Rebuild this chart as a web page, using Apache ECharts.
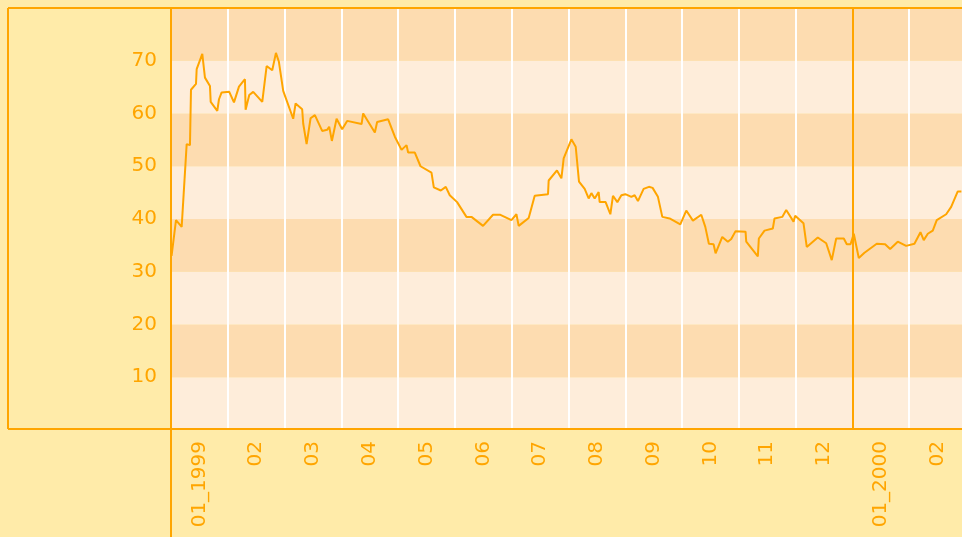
<!DOCTYPE html>
<html>
<head>
<meta charset="utf-8">
<script src="https://cdn.jsdelivr.net/npm/echarts@6/dist/echarts.min.js"></script>
<style>
html,body{margin:0;padding:0;background:#FFEBA9;}
#c{width:962px;height:537px;}
</style>
</head>
<body>
<div id="c"></div>
<script>
// Month labels (one band per month)
var monthLabels = ['01_1999','02','03','04','05','06','07','08','09','10','11','12','01_2000','02'];
// Position of each observation, in months from the start of Jan 1999
var monthPos = [0.01,0.088,0.188,0.276,0.334,0.352,0.44,0.452,0.551,0.598,0.686,0.699,0.815,0.845,0.892,
1.026,1.109,1.197,1.302,1.314,1.378,1.448,1.607,1.684,1.783,1.848,1.900,1.976,
2.152,2.194,2.310,2.328,2.388,2.458,2.534,2.662,2.750,2.786,2.833,2.916,
3.014,3.102,3.356,3.384,3.590,3.630,3.824,3.942,
4.060,4.148,4.176,4.294,4.394,4.587,4.628,4.751,4.839,4.909,
5.038,5.203,5.291,5.495,5.671,5.801,5.995,
6.083,6.123,6.299,6.405,6.639,6.651,6.797,6.875,6.915,
7.051,7.127,7.185,7.285,7.355,7.403,7.461,7.531,7.549,7.654,7.737,7.783,7.860,7.931,
8.001,8.107,8.165,8.223,8.323,8.416,8.481,8.575,8.652,8.780,8.969,
9.074,9.191,9.338,9.409,9.472,9.555,9.590,9.708,9.806,9.866,9.942,
10.118,10.130,10.334,10.352,10.452,10.598,10.628,10.764,10.834,10.963,10.992,
11.138,11.196,11.390,11.538,11.636,11.714,11.848,11.901,11.966,
12.024,12.112,12.212,12.428,12.576,12.664,12.798,12.946,
13.092,13.198,13.256,13.327,13.415,13.485,13.651,13.739,13.853,13.919];
// Values
var values = [33.0,39.8,38.5,54.2,54.0,64.5,65.6,68.4,71.3,66.8,65.2,62.2,60.5,62.7,64.0,
64.1,62.1,65.1,66.5,60.7,63.5,64.1,62.2,69.0,68.2,71.5,69.8,64.3,
59.0,61.9,60.8,58.1,54.2,59.1,59.7,56.7,56.9,57.5,54.8,59.0,
57.0,58.6,58.0,60.0,56.4,58.4,58.9,55.6,
53.1,54.0,52.6,52.6,50.0,48.8,46.0,45.4,46.1,44.5,
43.2,40.4,40.4,38.7,40.8,40.8,39.8,
40.9,38.7,40.2,44.4,44.7,47.3,49.2,47.7,51.5,
55.1,53.7,47.1,45.7,43.9,44.9,43.9,45.1,43.2,43.2,40.9,44.4,43.2,44.5,
44.7,44.2,44.5,43.4,45.7,46.1,45.9,44.2,40.4,40.1,39.0,
41.6,39.7,40.8,38.5,35.3,35.2,33.5,36.6,35.7,36.2,37.7,
37.6,35.7,32.9,36.3,37.8,38.2,40.1,40.4,41.7,39.5,40.6,
39.2,34.7,36.5,35.4,32.2,36.3,36.3,35.2,35.2,
37.2,32.6,33.6,35.3,35.2,34.3,35.7,34.9,
35.3,37.5,36.0,37.2,37.8,39.8,40.9,42.3,45.2,45.2];
var yearBreak = 12; // start of 2000

var ORANGE = '#FFA500';
var pts = monthPos.map(function(p,i){return [p, values[i]];});

var chart = echarts.init(document.getElementById('c'));
chart.setOption({
  backgroundColor: '#FFEBA9',
  animation: false,
  textStyle: {fontFamily: 'DejaVu Sans'},
  grid: {left: 171, top: 8, width: 795, height: 422, containLabel: false, outerBoundsMode: 'none'},
  xAxis: [{
    type: 'value', min: 0, max: monthLabels.length, interval: 1,
    axisLine: {show: false},
    axisTick: {show: false},
    axisLabel: {show: false},
    splitLine: {show: true, lineStyle: {color: '#FFFFFF', width: 2}}
  }, {
    type: 'category', data: monthLabels, position: 'bottom', boundaryGap: true,
    axisLine: {show: false}, axisTick: {show: false},
    splitLine: {show: false},
    axisLabel: {rotate: 90, color: ORANGE, fontSize: 20, margin: 11, interval: 0, fontFamily: 'DejaVu Sans'}
  }],
  yAxis: {
    type: 'value', min: 0, max: 80, interval: 10,
    axisLine: {show: false},
    axisTick: {show: false},
    axisLabel: {color: ORANGE, fontSize: 20, margin: 14, fontFamily: 'DejaVu Sans',
      formatter: function(v){return (v === 0 || v === 80) ? '' : String(v);}},
    splitLine: {show: false},
    splitArea: {show: true, areaStyle: {color: ['#FEEDDA', '#FDDCB0']}}
  },
  series: [{
    type: 'line', data: pts, xAxisIndex: 0, showSymbol: false, symbol: 'none',
    lineStyle: {color: ORANGE, width: 2},
    markLine: {
      silent: true, symbol: 'none', label: {show: false},
      lineStyle: {color: ORANGE, width: 2, type: 'solid'},
      data: [{xAxis: yearBreak}]
    },
    z: 3
  }],
  graphic: [
    {type: 'line', shape: {x1: 8, y1: 8, x2: 962, y2: 8}, style: {stroke: ORANGE, lineWidth: 2}, z: 100},
    {type: 'line', shape: {x1: 8, y1: 429, x2: 962, y2: 429}, style: {stroke: ORANGE, lineWidth: 2}, z: 100},
    {type: 'line', shape: {x1: 8, y1: 8, x2: 8, y2: 429}, style: {stroke: ORANGE, lineWidth: 2}, z: 100},
    {type: 'line', shape: {x1: 171, y1: 8, x2: 171, y2: 537}, style: {stroke: ORANGE, lineWidth: 2}, z: 100}
  ]
});
</script>
</body>
</html>
